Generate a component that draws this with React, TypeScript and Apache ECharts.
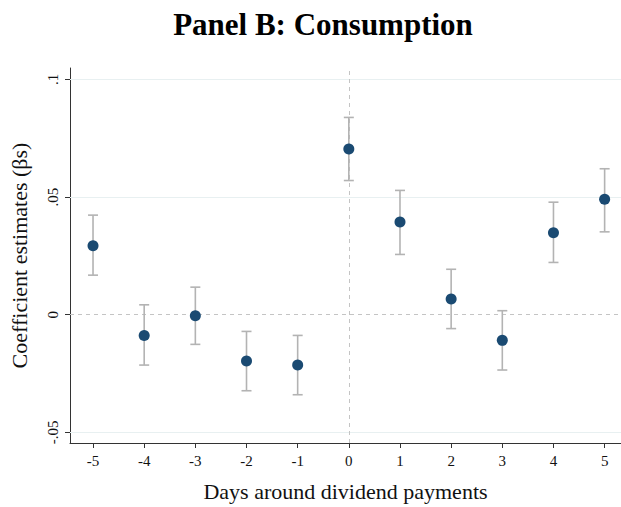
import React, { useEffect, useRef } from "react";
import * as echarts from "echarts";

const days = [-5, -4, -3, -2, -1, 0, 1, 2, 3, 4, 5];
const estimates = [0.0293, -0.0088, -0.0004, -0.0197, -0.0214, 0.0704, 0.0394, 0.0067, -0.0109, 0.0348, 0.049];
const ciLow = [0.0168, -0.0214, -0.0126, -0.0323, -0.034, 0.057, 0.0256, -0.0059, -0.0235, 0.0222, 0.0352];
const ciHigh = [0.0423, 0.0042, 0.0117, -0.0071, -0.0088, 0.0838, 0.0528, 0.0193, 0.0017, 0.0478, 0.062];
const yTicks = [-0.05, 0, 0.05, 0.1];
const xTicks = days;

const fmtY = (v: number) => {
  if (v === 0) return "0";
  const s = String(Math.round(v * 1000) / 1000);
  return s.replace("0.", ".");
};

export default function App() {
  const ref = useRef<HTMLDivElement>(null);
  useEffect(() => {
    if (!ref.current) return;
    const chart = echarts.init(ref.current, null, { renderer: "svg" });
    const font = "Liberation Serif";
    chart.setOption({
      animation: false,
      textStyle: { fontFamily: font },
      title: {
        text: "Panel B: Consumption",
        left: 318,
        textAlign: "center",
        top: 4,
        textStyle: { fontFamily: font, fontSize: 31, fontWeight: "bold", color: "#000" },
      },
      grid: { left: 70, top: 68, right: 0, bottom: 59 },
      xAxis: {
        type: "value",
        min: -5.45,
        max: 5.32,
        name: "Days around dividend payments",
        nameLocation: "middle",
        nameGap: 37,
        nameTextStyle: { fontFamily: font, fontSize: 22, color: "#111" },
        axisLine: { show: true, onZero: false, lineStyle: { color: "#333", width: 1 } },
        axisTick: { show: true, length: 5, customValues: xTicks, lineStyle: { color: "#333" } },
        axisLabel: {
          customValues: xTicks,
          fontFamily: font,
          fontSize: 15,
          color: "#111",
          margin: 10,
          formatter: (v: number) => String(v),
        },
        splitLine: { show: false },
      },
      yAxis: {
        type: "value",
        min: -0.0545,
        max: 0.1048,
        name: "Coefficient estimates (βs)",
        nameLocation: "middle",
        nameRotate: 90,
        nameGap: 40,
        nameTextStyle: { fontFamily: font, fontSize: 22, color: "#111" },
        axisLine: { show: true, onZero: false, lineStyle: { color: "#333", width: 1 } },
        axisTick: { show: true, length: 5, customValues: yTicks, lineStyle: { color: "#333" } },
        axisLabel: {
          customValues: yTicks,
          rotate: 90,
          fontFamily: font,
          fontSize: 15,
          color: "#111",
          margin: 10,
          formatter: (v: number) => fmtY(v),
        },
        splitLine: { show: false },
      },
      series: [
        {
          type: "line",
          data: [],
          silent: true,
          z: 1,
          markLine: {
            symbol: "none",
            silent: true,
            z: 1,
            label: { show: false },
            data: [
              { yAxis: 0.1, lineStyle: { color: "#e8f0f1", type: "solid", width: 1.2 } },
              { yAxis: 0.05, lineStyle: { color: "#e8f0f1", type: "solid", width: 1.2 } },
              { yAxis: -0.05, lineStyle: { color: "#e8f0f1", type: "solid", width: 1.2 } },
              { yAxis: 0, lineStyle: { color: "#c4c4c4", type: [4, 4], width: 1 } },
              { xAxis: 0, lineStyle: { color: "#c4c4c4", type: [4, 4], width: 1 } },
            ],
          },
        },
        {
          type: "custom",
          silent: true,
          z: 4,
          data: days.map((d, i) => [d, ciLow[i], ciHigh[i]]),
          renderItem: (params: any, api: any) => {
            const x = api.value(0);
            const lo = api.coord([x, api.value(1)]);
            const hi = api.coord([x, api.value(2)]);
            const w = 5;
            const style = { stroke: "#b3b3b3", lineWidth: 1.6 };
            return {
              type: "group",
              children: [
                { type: "line", shape: { x1: lo[0], y1: lo[1], x2: hi[0], y2: hi[1] }, style },
                { type: "line", shape: { x1: lo[0] - w, y1: lo[1], x2: lo[0] + w, y2: lo[1] }, style },
                { type: "line", shape: { x1: hi[0] - w, y1: hi[1], x2: hi[0] + w, y2: hi[1] }, style },
              ],
            };
          },
        },
        {
          type: "scatter",
          symbol: "circle",
          symbolSize: 11,
          z: 6,
          itemStyle: { color: "#1a4a72", opacity: 1 },
          data: days.map((d, i) => [d, estimates[i]]),
        },
      ],
    });
    return () => chart.dispose();
  }, []);
  return <div ref={ref} style={{ width: 621, height: 507, position: "absolute", left: 0, top: 0 }} />;
}
